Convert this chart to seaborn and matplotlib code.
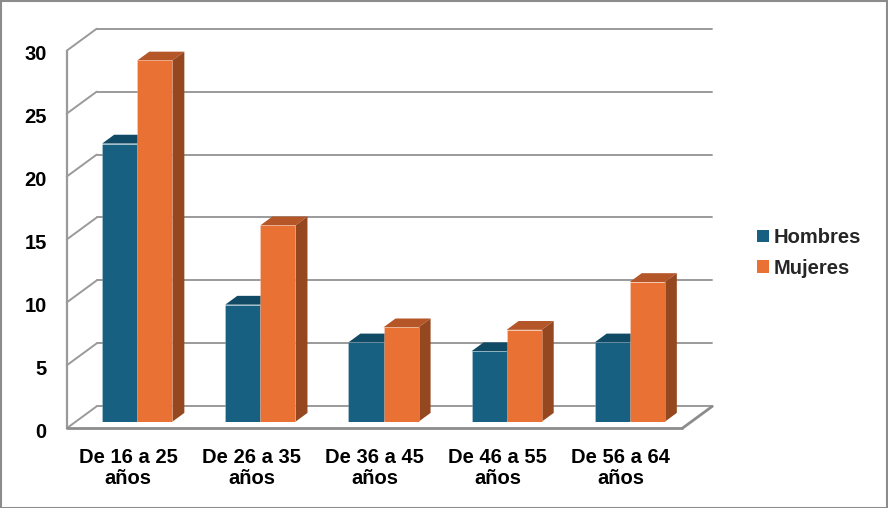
import matplotlib
matplotlib.use("Agg")
import matplotlib.pyplot as plt
import seaborn as sns
import pandas as pd
from matplotlib.patches import Polygon, Rectangle
from matplotlib.colors import to_rgb

# ---- data ----
categories = ["De 16 a 25\naños", "De 26 a 35\naños", "De 36 a 45\naños",
              "De 46 a 55\naños", "De 56 a 64\naños"]
hombres = [22.1, 9.3, 6.3, 5.6, 6.3]
mujeres = [28.7, 15.6, 7.5, 7.3, 11.1]
series = ["Hombres", "Mujeres"]
yticks = [0, 5, 10, 15, 20, 25, 30]

df = pd.DataFrame({
    "Grupo": categories * 2,
    "Valor": hombres + mujeres,
    "Sexo": [series[0]] * len(categories) + [series[1]] * len(categories),
})

# ---- style ----
sns.set_style("white")
plt.rcParams["font.family"] = ["Liberation Sans", "DejaVu Sans"]
plt.rcParams["font.weight"] = "bold"

front_cols = {"Hombres": "#176081", "Mujeres": "#E87133"}
top_cols = {"Hombres": "#114A64", "Mujeres": "#B55628"}
side_cols = {"Hombres": "#104560", "Mujeres": "#954820"}
grid_col = "#9a9a9a"

W, H = 888, 508
fig = plt.figure(figsize=(W / 100, H / 100), dpi=100)

# axes in the plane of the bar front faces (pixels)
ax_l, ax_r = 75.7, 691.3
ax_top, ax_bot = 44.1, 421.7
ax = fig.add_axes([ax_l / W, 1 - ax_bot / H, (ax_r - ax_l) / W, (ax_bot - ax_top) / H])

sns.barplot(data=df, x="Grupo", y="Valor", hue="Sexo", palette=front_cols,
            width=0.57, saturation=1, ax=ax, zorder=3, linewidth=0,
            legend=True)
ax.set_xlim(-0.5, len(categories) - 0.5)
ax.set_ylim(0, 30)
ax.axis("off")

# depth geometry (pixels): full depth from front wall (d=0) to back wall (d=1)
DX, DY = 30.0, 22.0
D_BAR = 0.3
pxx = (ax_r - ax_l) / len(categories)
pxy = (ax_bot - ax_top) / 30.0


def P(x, y, d):
    return (x + (d - D_BAR) * DX / pxx, y + (d - D_BAR) * DY / pxy)


def line(pts, **kw):
    xs, ys = zip(*pts)
    ax.plot(xs, ys, clip_on=False, solid_capstyle="round", **kw)


xmin, xmax = -0.5, len(categories) - 0.5
for v in yticks:
    line([P(xmin, v, 1), P(xmax, v, 1)], color=grid_col, lw=1.4, zorder=1)
    line([P(xmin, v, 0), P(xmin, v, 1)], color=grid_col, lw=1.4, zorder=1)
line([P(xmin, 0, 0), P(xmin, 30, 0)], color=grid_col, lw=1.6, zorder=1)
line([P(xmin, 0, 0), P(xmax, 0, 0)], color="#8c8c8c", lw=2.0, zorder=1)
line([P(xmax, 0, 0), P(xmax, 0, 1)], color="#8c8c8c", lw=2.0, zorder=1)

# 3D top and side faces of bars, derived from the seaborn bar patches
bars = [p for p in ax.patches if p.get_height() > 0]
for p in bars:
    fc = to_rgb(p.get_facecolor())
    key = "Hombres" if abs(fc[0] - to_rgb(front_cols["Hombres"])[0]) < 0.05 else "Mujeres"
    x0, w, h = p.get_x(), p.get_width(), p.get_height()
    top = [P(x0, h, 0.3), P(x0 + w, h, 0.3), P(x0 + w, h, 0.7), P(x0, h, 0.7)]
    side = [P(x0 + w, 0, 0.3), P(x0 + w, h, 0.3), P(x0 + w, h, 0.7), P(x0 + w, 0, 0.7)]
    z = 2.0 if key == "Hombres" else 2.5
    ax.add_patch(Polygon(top, closed=True, facecolor=top_cols[key], edgecolor="none",
                         zorder=z, clip_on=False))
    ax.add_patch(Polygon(side, closed=True, facecolor=side_cols[key], edgecolor="none",
                         zorder=z, clip_on=False))
    p.set_edgecolor((1, 1, 1, 0.25))
    p.set_linewidth(0.6)

# y tick labels on the front wall
FS = 14.5
for v in yticks:
    x, y = P(xmin, v, 0)
    ax.text(x - 20 / pxx, y - 9.3 / pxy, str(v), ha="right", va="baseline",
            fontsize=FS, fontweight="bold", color="#000000", clip_on=False)

# category labels below the floor (baseline of the last line)
for i, c in enumerate(categories):
    x, y = P(i, 0, 0)
    ax.text(x, y - 55.7 / pxy, c, ha="center", va="baseline", fontsize=FS,
            fontweight="bold", color="#000000", linespacing=1.13, clip_on=False)

# legend
handles, labels = ax.get_legend_handles_labels()
if ax.get_legend() is not None:
    ax.get_legend().remove()
fig.legend(handles, labels, loc="center left",
           bbox_to_anchor=(757 / W, 1 - 253 / H), frameon=False,
           prop={"family": "Liberation Sans", "weight": "bold", "size": FS},
           handlelength=0.6, handleheight=0.6, handletextpad=0.25,
           labelspacing=0.59, borderpad=0, borderaxespad=0)

# chart border
fig.patches.append(Rectangle((0.5 / W, 0.5 / H), 1 - 1.5 / W, 1 - 1.5 / H,
                             transform=fig.transFigure, fill=False,
                             edgecolor="#8c8c8c", lw=1.5, zorder=10))

fig.savefig("out.png", dpi=100)
